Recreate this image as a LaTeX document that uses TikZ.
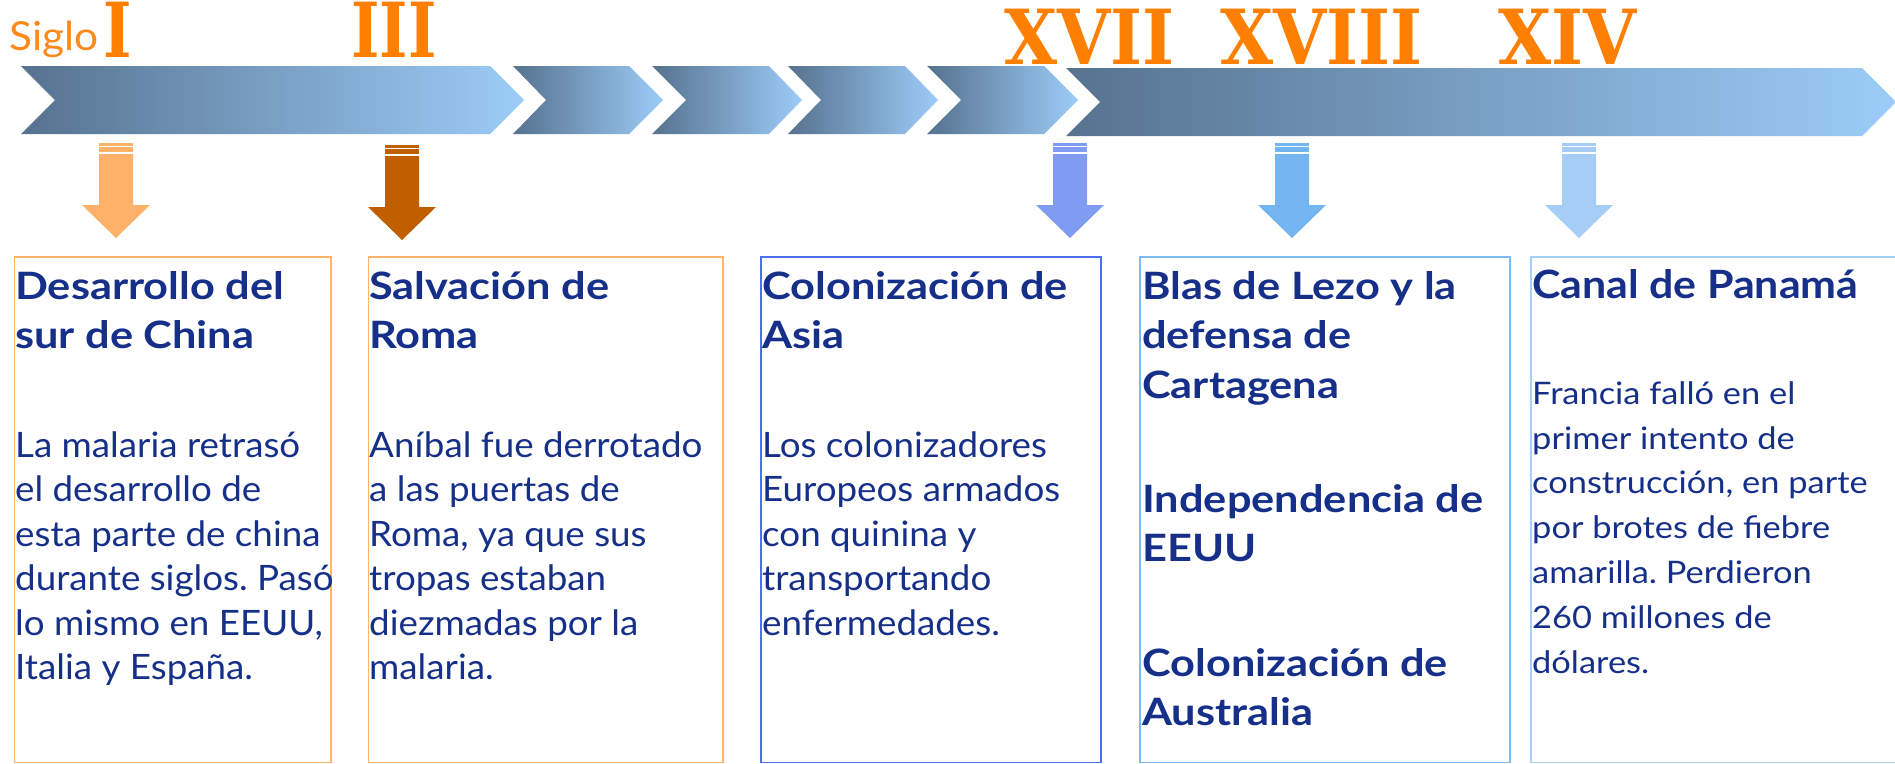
\documentclass[tikz,border=0pt]{standalone}
\usepackage{fontspec}
\setmainfont{Lato}
\newfontfamily\ttlfont{Lato}[FakeStretch=1.15]
\newfontfamily\bdyfont{Lato}[FakeStretch=1.05]
\newfontfamily\wttlfont{Lato}[FakeStretch=1.1]
\newfontfamily\wbdyfont{Lato}[FakeStretch=1.11]
\newfontfamily\sigfont{Lato}[FakeStretch=1.06]
\newfontfamily\romfont{DejaVu Serif}[FakeStretch=0.9]
\newfontfamily\romIfont{DejaVu Serif}[FakeStretch=0.8]
\definecolor{chevL}{HTML}{56728F}
\definecolor{chevR}{HTML}{9CCCF8}
\definecolor{navy}{HTML}{16308A}
\definecolor{numor}{HTML}{FF7F00}
\definecolor{sigor}{HTML}{FF8A1C}
\definecolor{arA}{HTML}{FFB169}
\definecolor{arB}{HTML}{C05E00}
\definecolor{arC}{HTML}{7F9CF2}
\definecolor{arD}{HTML}{72B5F0}
\definecolor{arE}{HTML}{A5CDF5}
\definecolor{bxA}{HTML}{FFB469}
\definecolor{bxC}{HTML}{4D6EF2}
\definecolor{bxD}{HTML}{7EB9F2}
\definecolor{bxE}{HTML}{A8D0F7}
\tikzset{
  chev/.style={left color=chevL, right color=chevR, draw=none},
  ttl/.style={anchor=north west, inner sep=0pt, align=left, text=navy,
    font=\ttlfont\bfseries\fontsize{37.7}{49.5}\selectfont},
  bdy/.style={anchor=north west, inner sep=0pt, align=left, text=navy,
    font=\bdyfont\fontsize{35}{44.5}\selectfont},
  wttl/.style={ttl, font=\wttlfont\bfseries\fontsize{39}{49.5}\selectfont},
  wbdy/.style={bdy, font=\wbdyfont\fontsize{31}{44.8}\selectfont},
  roman/.style={anchor=base west, inner sep=0pt, text=numor,
    font=\romfont\bfseries\fontsize{76}{76}\selectfont},
  romanI/.style={roman, font=\romIfont\bfseries\fontsize{76}{76}\selectfont},
  tbox/.style={line width=1.5pt},
}
\begin{document}
\frenchspacing
\begin{tikzpicture}[x=1pt,y=-1pt]
\clip (0,0) rectangle (1895,763);
\fill[white] (0,0) rectangle (1895,763);
% timeline chevrons
\shade[chev] (21,66) -- (490,66) -- (524,100) -- (490,134) -- (21,134) -- (55,100) -- cycle;
\shade[chev] (513,66) -- (629,66) -- (663,100) -- (629,134) -- (513,134) -- (546,100) -- cycle;
\shade[chev] (652,66) -- (769,66) -- (802,100) -- (769,134) -- (652,134) -- (686,100) -- cycle;
\shade[chev] (788,66) -- (905,66) -- (938,100) -- (905,134) -- (788,134) -- (821,100) -- cycle;
\shade[chev] (927,66) -- (1044,66) -- (1078,100) -- (1044,134) -- (927,134) -- (961,100) -- cycle;
\shade[chev] (1066,68) -- (1862,68) -- (1896,102) -- (1862,136) -- (1066,136) -- (1100,102) -- cycle;
% century labels
\node[anchor=base west, inner sep=0pt, text=sigor, font=\sigfont\fontsize{40}{40}\selectfont] (siglo) at (9,50) {Siglo};
\node[romanI] (s1) at (103,57) {I};
\node[romanI] (s3) at (351,57) {III};
\node[roman] (s17) at (1004,64) {XVII};
\node[roman] (s18) at (1220,64) {XVIII};
\node[roman] (s14) at (1498,64) {XIV};
% striped down arrows
\foreach \cx/\ty/\col in {116/143/arA, 402/145/arB, 1070/143/arC, 1292/143/arD, 1579/143/arE}{
  \fill[\col] (\cx-17,\ty) rectangle (\cx+17,\ty+2.5);
  \fill[\col] (\cx-17,\ty+4) rectangle (\cx+17,\ty+9);
  \fill[\col] (\cx-17,\ty+11) -- (\cx+17,\ty+11) -- (\cx+17,\ty+62) -- (\cx+34,\ty+62)
     -- (\cx,\ty+95) -- (\cx-34,\ty+62) -- (\cx-17,\ty+62) -- cycle;
}
% boxes
\draw[tbox, bxA] (14.5,257) rectangle (331,762.5);
\draw[tbox, bxA] (368.5,257) rectangle (723,762.5);
\draw[tbox, bxC] (761,257) rectangle (1101,762.5);
\draw[tbox, bxD] (1140,257) rectangle (1510,762.5);
\draw[tbox, bxE] (1531,257) rectangle (1900,762.5);
% box texts
\node[ttl] (t1) at (15,264.35) {\strut Desarrollo del\\sur de China};
\node[bdy] (b1) at (15,425.85) {\strut La malaria retrasó\\el desarrollo de\\esta parte de china\\durante siglos. Pasó\\lo mismo en EEUU,\\Italia y España.};
\node[ttl] (t2) at (369,264.35) {\strut Salvación de\\Roma};
\node[bdy] (b2) at (369,425.85) {\strut Aníbal fue derrotado\\a las puertas de\\Roma, ya que sus\\tropas estaban\\diezmadas por la\\malaria.};
\node[ttl] (t3) at (762,264.35) {\strut Colonización de\\Asia};
\node[bdy] (b3) at (762,425.85) {\strut Los colonizadores\\Europeos armados\\con quinina y\\transportando\\enfermedades.};
\node[ttl] (t4a) at (1142,264.35) {\strut Blas de Lezo y la\\defensa de\\Cartagena};
\node[ttl] (t4b) at (1142,477.35) {\strut Independencia de\\EEUU};
\node[ttl] (t4c) at (1142,641.35) {\strut Colonización de\\Australia};
\node[wttl] (t5) at (1532,263.35) {\strut Canal de Panamá};
\node[wbdy] (b5) at (1532,372.64) {\strut Francia falló en el\\primer intento de\\construcción, en parte\\por brotes de fiebre\\amarilla. Perdieron\\260 millones de\\dólares.};
\end{tikzpicture}
\end{document}
